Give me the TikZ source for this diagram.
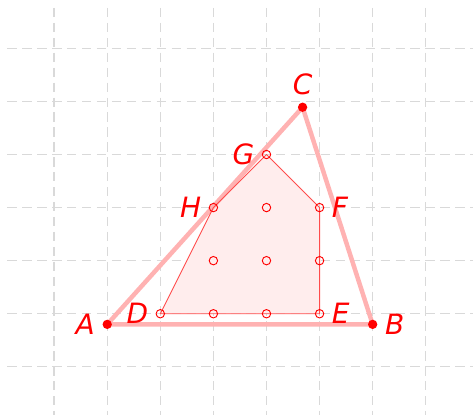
\documentclass[tikz,border=0pt]{standalone}
\usepackage{fontspec}
\newfontfamily\labelfont{DejaVu Sans}
\usetikzlibrary{backgrounds}

\begin{document}
\begin{tikzpicture}[
    gridline/.style={
        gray!30,
        line width=0.7pt,
        dash pattern=on 5pt off 3pt
    },
    side/.style={red!30, line width=2.4pt, line join=round},
    hull/.style={red!70, line width=0.5pt, line join=round},
    vertex/.style={
        circle,
        fill=red,
        inner sep=0pt,
        minimum size=5pt
    },
    lattice/.style={
        circle,
        draw=red,
        line width=0.5pt,
        inner sep=0pt,
        minimum size=4.5pt
    },
    every label/.style={
        text=red,
        font=\labelfont\itshape\fontsize{15}{17}\selectfont
    },
    label distance=0.5pt
]
\useasboundingbox (-2.02,-1.9) rectangle (6.89,5.91);

% vertices of the triangle
\node[vertex, label=left:A] (A) at (0,-0.2) {};
\node[vertex, label=right:B] (B) at (5,-0.2) {};
\node[vertex, label=above:C] (C) at (3.68,3.89) {};

% lattice points
\node[lattice, label=left:D] (D) at (1,0) {};
\node[lattice, label=right:E] (E) at (4,0) {};
\node[lattice, label=right:F] (F) at (4,2) {};
\node[lattice, label=left:G] (G) at (3,3) {};
\node[lattice, label=left:H] (H) at (2,2) {};
\foreach \x/\y in {2/0, 3/0, 2/1, 3/1, 4/1, 3/2}
    \node[lattice] (p\x\y) at (\x,\y) {};

\begin{scope}[on background layer]
    \foreach \x in {-1,...,6}
        \draw[gridline] (\x,5.76) -- (\x,-1.9);
    \foreach \y in {-1,...,5}
        \draw[gridline] (-1.88,\y) -- (6.89,\y);
    \fill[red!7] (D.center) -- (E.center) -- (F.center) -- (G.center) -- (H.center) -- cycle;
    \draw[side] (A.center) -- (B.center) -- (C.center) -- cycle;
    \draw[hull] (D.center) -- (E.center) -- (F.center) -- (G.center) -- (H.center) -- cycle;
\end{scope}

\end{tikzpicture}
\end{document}
